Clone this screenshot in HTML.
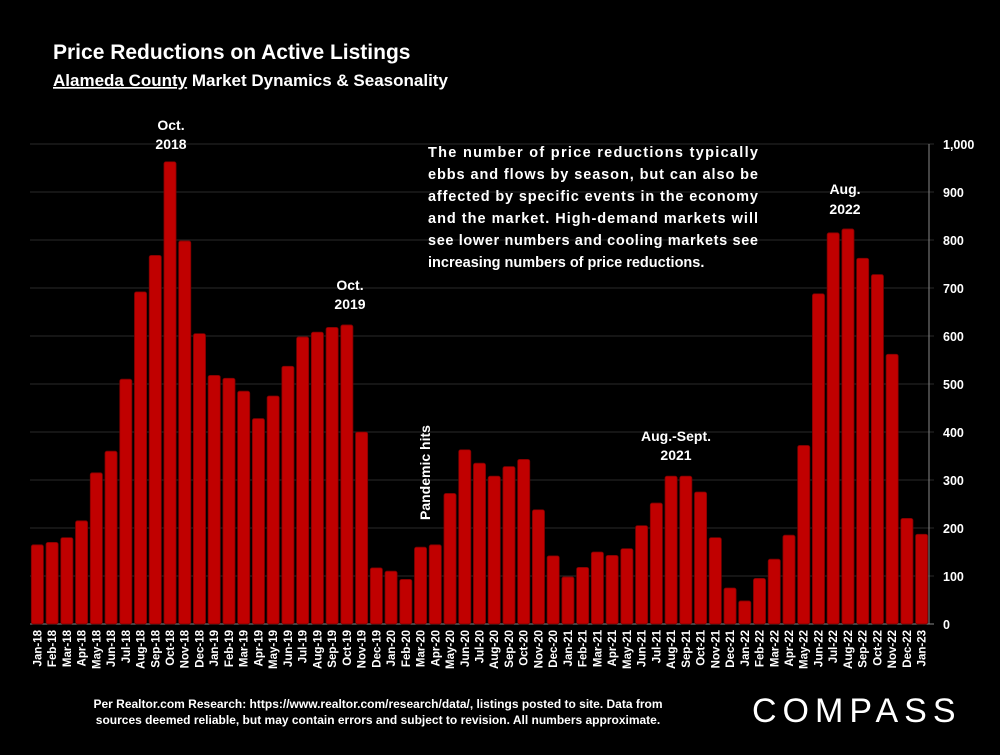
<!DOCTYPE html>
<html><head><meta charset="utf-8"><style>
body{margin:0;background:#000;width:1000px;height:750px;overflow:hidden;font-family:"Liberation Sans",sans-serif;color:#fff}
svg text{font-family:"Liberation Sans",sans-serif;font-weight:bold;fill:#fff}
</style></head><body>
<svg id="c" width="1000" height="750">
<text x="53" y="59" font-size="21">Price Reductions on Active Listings</text>
<text x="53" y="86" font-size="17"><tspan text-decoration="underline">Alameda County</tspan> Market Dynamics &amp; Seasonality</text>
<g id="grid"></g><g id="bars"></g><g id="xl"></g><g id="yl"></g>
<g font-size="14.5">
<text x="428" y="157" textLength="330">The number of price reductions typically</text>
<text x="428" y="179" textLength="330">ebbs and flows by season, but can also be</text>
<text x="428" y="201" textLength="330">affected by specific events in the economy</text>
<text x="428" y="223" textLength="330">and the market. High-demand markets will</text>
<text x="428" y="245" textLength="330">see lower numbers and cooling markets see</text>
<text x="428" y="267">increasing numbers of price reductions.</text>
</g>
<g font-size="14" text-anchor="middle">
<text x="171" y="130">Oct.</text><text x="171" y="149">2018</text>
<text x="350" y="290">Oct.</text><text x="350" y="309">2019</text>
<text x="676" y="441">Aug.-Sept.</text><text x="676" y="460">2021</text>
<text x="845" y="194">Aug.</text><text x="845" y="214">2022</text>
</g>
<text transform="translate(430,520) rotate(-90)" font-size="14">Pandemic hits</text>
<g font-size="12" text-anchor="middle">
<text x="378" y="708">Per Realtor.com Research:  https://www.realtor.com/research/data/, listings posted to site. Data from</text>
<text x="378" y="724">sources deemed reliable, but may contain errors and subject to revision. All numbers approximate.</text>
</g>
<text x="752" y="722" font-size="34" letter-spacing="6" style="font-weight:normal">COMPASS</text>
</svg>
<script>
const categories=["Jan-18","Feb-18","Mar-18","Apr-18","May-18","Jun-18","Jul-18","Aug-18","Sep-18","Oct-18","Nov-18","Dec-18","Jan-19","Feb-19","Mar-19","Apr-19","May-19","Jun-19","Jul-19","Aug-19","Sep-19","Oct-19","Nov-19","Dec-19","Jan-20","Feb-20","Mar-20","Apr-20","May-20","Jun-20","Jul-20","Aug-20","Sep-20","Oct-20","Nov-20","Dec-20","Jan-21","Feb-21","Mar-21","Apr-21","May-21","Jun-21","Jul-21","Aug-21","Sep-21","Oct-21","Nov-21","Dec-21","Jan-22","Feb-22","Mar-22","Apr-22","May-22","Jun-22","Jul-22","Aug-22","Sep-22","Oct-22","Nov-22","Dec-22","Jan-23"];
const values=[165,170,180,215,315,360,510,692,768,963,798,605,518,512,485,428,475,537,598,608,618,623,400,117,110,93,160,165,272,363,335,308,328,343,238,142,98,118,150,143,157,205,252,308,308,275,180,75,48,95,135,185,372,688,815,823,762,728,562,220,187];
const yTicks=[0,100,200,300,400,500,600,700,800,900,1000];
const yTickLabels=["0","100","200","300","400","500","600","700","800","900","1,000"];
const NS="http://www.w3.org/2000/svg";
const x0=30,x1=929,yb=624,yt=144,yMax=1000;
const step=(x1-x0)/categories.length;
const y=v=>yb-(v/yMax)*(yb-yt);
const xb=i=>x0+i*step;
function mk(t,a,p){const e=document.createElementNS(NS,t);for(const k in a)e.setAttribute(k,a[k]);document.getElementById(p).appendChild(e);return e;}
yTicks.forEach((t,i)=>{
 const l=mk('line',{x1:x0,x2:x1+5,y1:y(t),y2:y(t),stroke:t===0?'#888':'#2a2a2a','stroke-width':1},'grid');
 
 
 const tx=mk('text',{x:943,y:y(t)+5,'font-size':12.5},'yl');tx.textContent=yTickLabels[i];
 
 
});
const ax=mk('line',{x1:x1,x2:x1,y1:yt,y2:yb,stroke:'#888'},'grid');


categories.forEach((c,i)=>{
 const r=mk('rect',{x:xb(i)+1.3,y:y(values[i]),width:step-2.6,height:yb-y(values[i]),fill:'#c00000',stroke:'#7a0000','stroke-width':0.8,rx:2},'bars');
 
 
 const cx=xb(i)+step/2+4;
 const t=mk('text',{transform:`translate(${cx},${630}) rotate(-90)`,'text-anchor':'end','font-size':11.5},'xl');t.textContent=c;
 
 
});
</script>
</body></html>
